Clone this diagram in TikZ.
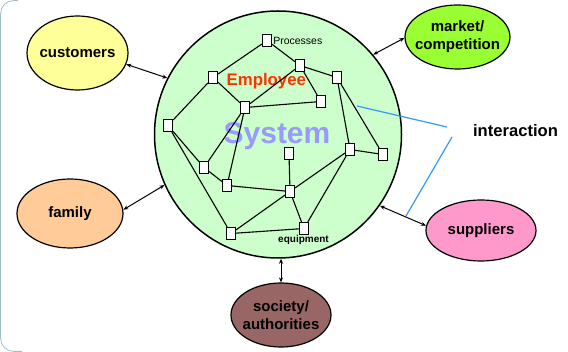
\documentclass[tikz,border=0pt]{standalone}
\usepackage{fontspec}
\setmainfont{Liberation Sans}
\usetikzlibrary{shapes.geometric, arrows.meta}

\definecolor{sysGreen}{RGB}{204,255,204}
\definecolor{custYellow}{RGB}{255,255,153}
\definecolor{marketGreen}{RGB}{153,255,51}
\definecolor{familyOrange}{RGB}{255,204,153}
\definecolor{supplierPink}{RGB}{255,153,204}
\definecolor{societyBrown}{RGB}{153,102,102}
\definecolor{employeeRed}{RGB}{255,51,0}
\definecolor{systemBlue}{RGB}{153,153,255}
\definecolor{interBlue}{RGB}{51,153,255}
\definecolor{frameGrey}{RGB}{160,192,198}

\tikzset{
    partner/.style={ellipse, draw, line width=1.2pt, inner sep=0pt},
    partnerText/.style={align=center, font=\bfseries\fontsize{15}{17.8}\selectfont},
    unit/.style={draw, fill=white, line width=1.2pt, inner sep=0pt,
        minimum width=9pt, minimum height=12pt},
    link/.style={{Stealth[length=5pt,width=4pt]}-{Stealth[length=5pt,width=4pt]}, line width=1pt},
    wire/.style={line width=1.1pt},
    pointer/.style={interBlue, line width=1.2pt}
}

\begin{document}
\begin{tikzpicture}[x=1pt, y=-1pt]
    \useasboundingbox (0,0) rectangle (568,352);
    \draw[frameGrey, line width=0.8pt, rounded corners=13pt] (18,0.6) -- (0.6,0.6) -- (0.6,351.4) -- (22,351.4);

    % the system
    \node[circle, draw, fill=sysGreen, line width=1.5pt, inner sep=0pt, minimum size=247pt] (sys) at (278,134.5) {};
    \node[text=systemBlue, font=\bfseries\fontsize{30}{30}\selectfont] (sysLabel) at (277,136) {System};
    \node[text=employeeRed, font=\bfseries\fontsize{16.8}{17}\selectfont] (empLabel) at (266.3,80.7) {Employee};

    \node[unit] (pA) at (267,40.5) {};
    \node[unit] (pB) at (300,65.5) {};
    \node[unit] (pC) at (337,77.5) {};
    \node[unit] (pD) at (213,77.5) {};
    \node[unit] (pE) at (321,101.5) {};
    \node[unit] (pF) at (245,107.5) {};
    \node[unit] (pG) at (168,125.5) {};
    \node[unit] (pH) at (350,149.5) {};
    \node[unit] (pI) at (383,154.5) {};
    \node[unit] (pJ) at (289,153.5) {};
    \node[unit] (pK) at (204,167.5) {};
    \node[unit] (pL) at (227,185.5) {};
    \node[unit] (pM) at (290,191.5) {};
    \node[unit] (pN) at (231,233.5) {};
    \node[unit] (pO) at (304,228.5) {};

    \draw[wire] (pA) edge (pB) edge (pD)
        (pB) edge (pC) edge (pE) edge (pF)
        (pD) edge (pF) edge (pG)
        (pF) edge (pE) edge (pK) edge (pL)
        (pG) edge (pK) edge (pN)
        (pK) edge (pL)
        (pM) edge (pL) edge (pJ) edge (pN) edge (pO) edge (pH)
        (pC) edge (pH) edge (pI)
        (pH) edge (pI) edge (pO)
        (pN) edge (pO);

    \node[anchor=west, inner sep=1pt, font=\fontsize{10.5}{11}\selectfont] (procLabel) at (pA.east) {Processes};
    \node[font=\bfseries\fontsize{10}{11}\selectfont] (equipLabel) at (303.5,240) {equipment};

    % the surroundings
    \node[partner, fill=custYellow, minimum width=101pt, minimum height=74pt,
        label={[partnerText]center:customers}] (cust) at (77.5,53) {};
    \node[partner, fill=marketGreen, minimum width=105pt, minimum height=64pt,
        label={[partnerText]center:{market/\\competition}}] (market) at (457.5,37) {};
    \node[partner, fill=familyOrange, minimum width=106pt, minimum height=69pt,
        label={[partnerText]center:family}] (family) at (70,213.5) {};
    \node[partner, fill=supplierPink, minimum width=110pt, minimum height=61pt,
        label={[partnerText]center:suppliers}] (supp) at (481,230.5) {};
    \node[partner, fill=societyBrown, minimum width=100pt, minimum height=64pt,
        label={[partnerText]center:{society/\\authorities}}] (soc) at (281,315) {};

    \draw[link] (cust.-13) -- (sys.153);
    \draw[link] (family.4) -- (sys.204);
    \draw[link] (sys.40) -- (market.181);
    \draw[link] (sys.-35) -- (supp.175);
    \draw[link] (soc.north) -- (soc.north |- sys.south);

    \node[font=\bfseries\fontsize{16.6}{17}\selectfont] (inter) at (515.5,131) {interaction};
    \coordinate (tipUp) at (447,127);
    \coordinate (tipDown) at (452,137);
    \coordinate (inSys) at (357,106);
    \coordinate (onArrow) at (406,216);
    \draw[pointer] (inSys) -- (tipUp);
    \draw[pointer] (tipDown) -- (onArrow);
\end{tikzpicture}
\end{document}
